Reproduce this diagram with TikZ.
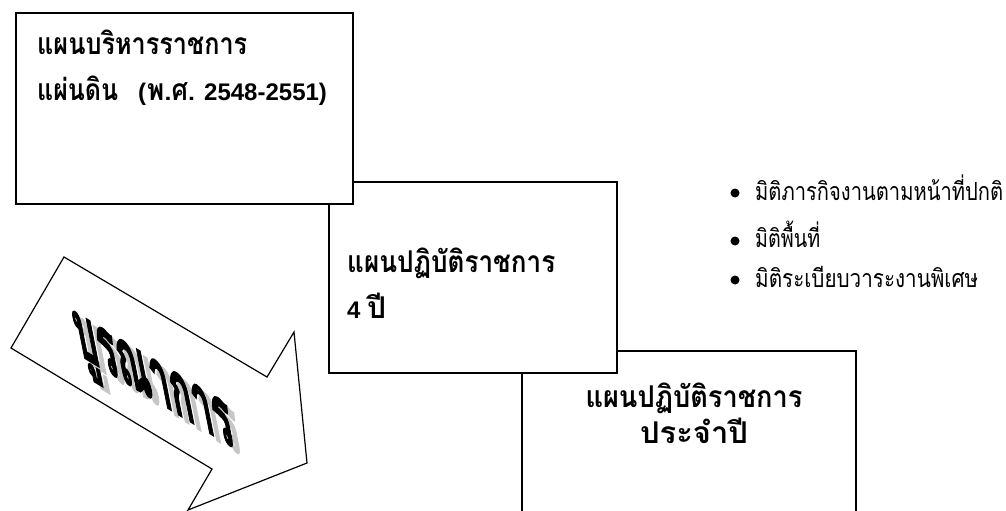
\documentclass[tikz,border=0pt]{standalone}
\usepackage{fontspec}
\usepackage{graphicx}
\newfontfamily\thaibox[Script=Thai]{Loma}
\newfontfamily\thaibul[Script=Thai]{Loma}
\newfontfamily\thaiheavy[Script=Thai, FakeBold=2.5]{Loma}
\newfontfamily\latin{Liberation Sans}
\newcommand{\lat}[1]{{\latin\bfseries\fontsize{24}{28}\selectfont #1}}
\newcommand{\fitw}[2]{\resizebox{#1}{\height}{#2}}
\begin{document}
\begin{tikzpicture}[x=1pt,y=-1pt,
  box/.style={draw=black, line width=1.6pt, fill=white, inner sep=0pt, anchor=north west},
  boxtext/.style={anchor=base west, inner sep=0pt, font=\thaibox\bfseries\fontsize{30}{34}\selectfont},
  ctrtext/.style={anchor=base, inner sep=0pt, font=\thaibox\bfseries\fontsize{30}{34}\selectfont},
  bultext/.style={anchor=base west, inner sep=0pt, font=\thaibul\fontsize{25}{29}\selectfont},
  dot/.style={circle, fill=black, inner sep=0pt, minimum size=9pt},
  arrowline/.style={draw=black, line width=1.2pt, fill=white, line join=miter},
  wordart/.style={transform shape, inner sep=0pt, font=\thaiheavy\bfseries\fontsize{82}{90}\selectfont}]
\useasboundingbox (0,0) rectangle (1006,511);
% boxes (lowest first)
\node[box, minimum width=334pt, minimum height=180pt] (b3) at (521,350) {};
\node[box, minimum width=288pt, minimum height=191pt] (b2) at (328,181) {};
\node[box, minimum width=337pt, minimum height=191pt] (b1) at (15,12) {};
% box texts
\node[boxtext] (t1a) at (37,55) {\fitw{210pt}{แผนบริหารราชการ}};
\node[boxtext] (t1b) at (37,100) {\fitw{81pt}{แผ่นดิน}\hspace{20pt}\lat{(}\hspace{1pt}\fitw{48pt}{พ.ศ.}\hspace{9pt}\lat{2548-2551)}};
\node[boxtext] (t2a) at (347,272) {\fitw{208pt}{แผนปฏิบัติราชการ}};
\node[boxtext] (t2b) at (347,318) {\lat{4 }ปี};
\node[ctrtext] (t3a) at (694,407) {\fitw{217pt}{แผนปฏิบัติราชการ}};
\node[ctrtext] (t3b) at (694,443) {\fitw{108pt}{ประจำปี}};
% bullets
\node[dot] (d1) at (735,193) {};
\node[dot] (d2) at (735,241) {};
\node[dot] (d3) at (735,280) {};
\node[bultext] (l1) at (755,200) {\fitw{248pt}{มิติภารกิจงานตามหน้าที่ปกติ}};
\node[bultext] (l2) at (755,247) {\fitw{65pt}{มิติพื้นที่}};
\node[bultext] (l3) at (755,287) {\fitw{223pt}{มิติระเบียบวาระงานพิเศษ}};
% block arrow
\draw[arrowline] (11,348) -- (64,257) -- (267,377) -- (294,332) -- (307,463)
  -- (188,510) -- (212,469) -- cycle;
\begin{scope}[shift={(162,396)}, cm={0.44,-0.265,-0.2,1,(0,0)}]
  \node[wordart, text=gray!45] (shadow) at (0,0) {บูรณาการ};
\end{scope}
\begin{scope}[shift={(155,389)}, cm={0.44,-0.265,-0.2,1,(0,0)}]
  \node[wordart, text=black] (word) at (0,0) {บูรณาการ};
\end{scope}
\end{tikzpicture}
\end{document}
